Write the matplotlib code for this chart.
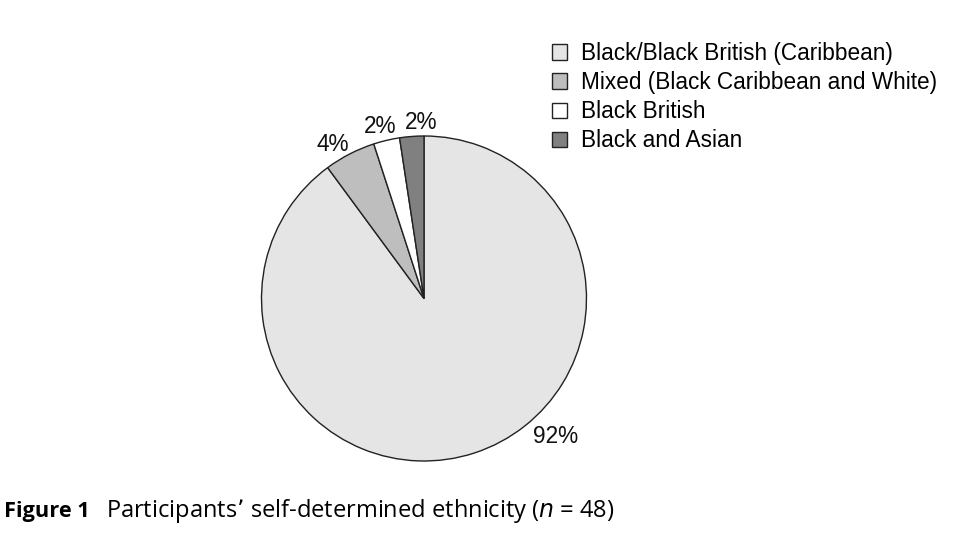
import matplotlib
matplotlib.use("Agg")
import matplotlib.pyplot as plt
from matplotlib.patches import Patch

categories = ["Black/Black British (Caribbean)", "Mixed (Black Caribbean and White)",
              "Black British", "Black and Asian"]
slice_shares = [89.9, 5.1, 2.6, 2.4]          # slice sizes as drawn in the picture
pct_labels = ["92%", "4%", "2%", "2%"]
colors = ["#e5e5e5", "#bebebe", "#ffffff", "#808080"]

W, H = 956, 541
fig = plt.figure(figsize=(W / 100, H / 100), dpi=100)
plt.rcParams['font.family'] = ['Liberation Sans', 'DejaVu Sans']

cx, cy, r = 424, 298.5, 162.5
ax = fig.add_axes([(cx - r) / W, (H - cy - r) / H, 2 * r / W, 2 * r / H])
wedges, _ = ax.pie(slice_shares, colors=colors, startangle=90, counterclock=False,
                   wedgeprops=dict(edgecolor="#222222", linewidth=1.0))
ax.set_xlim(-1, 1)
ax.set_ylim(-1, 1)
ax.set_aspect("equal")
ax.axis("off")

label_xy = [(0.81, -0.85), (-0.56, 0.945), (-0.27, 1.06), (-0.02, 1.085)]
for txt, (x, y) in zip(pct_labels, label_xy):
    ax.text(x, y, txt, ha="center", va="center", fontsize=16.3, color="#111111")

handles = [Patch(facecolor=c, edgecolor="#222222", linewidth=1.0) for c in colors]
fig.legend(handles, categories, loc="upper left",
           bbox_to_anchor=(543 / W, 1 - 33 / H), frameon=False, fontsize=16.3,
           handlelength=0.68, handleheight=0.68, handletextpad=0.6,
           labelspacing=0.27, borderaxespad=0)

fig.text(4 / W, 1 - 511 / H, "Figure 1", fontsize=15.7, fontweight="bold",
         family="Open Sans", va="center", ha="left")
fig.text(106 / W, 1 - 511 / H, "Participants\u2019 self-determined ethnicity ($\\it{n}$ = 48)",
         fontsize=17, family="Open Sans", va="center", ha="left")

fig.savefig("out.png", dpi=100)
